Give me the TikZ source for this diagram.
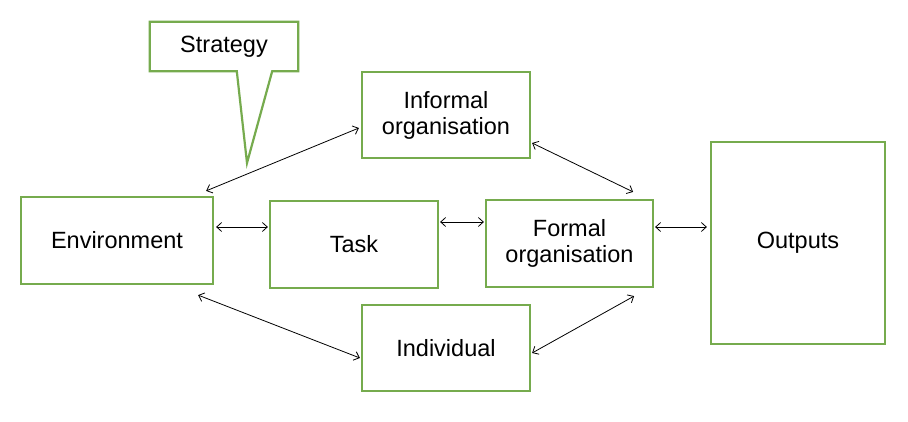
\documentclass[tikz,border=0pt]{standalone}
\usepackage{fontspec}
\setmainfont{Liberation Sans}
\usetikzlibrary{arrows.meta}
\definecolor{boxgreen}{RGB}{118,171,78}
\tikzset{
  box/.style={draw=boxgreen, line width=2.2pt, fill=white, inner sep=0pt, align=center,
    font=\fontsize{23.5}{26}\selectfont},
  arr/.style={draw=black, line width=0.8pt,
    {Straight Barb[length=5pt,width=9pt]}-{Straight Barb[length=5pt,width=9pt]}}
}
\begin{document}
\begin{tikzpicture}[x=1pt,y=-1pt]
\useasboundingbox[fill=white] (0,0) rectangle (908,422);
% callout
\node[font=\fontsize{23.5}{26}\selectfont, inner sep=0pt, minimum width=148pt, minimum height=49pt] (strat) at (224,46.5) {Strategy};
\draw[draw=boxgreen, line width=2.2pt, line join=miter]
  (strat.north west) -- (strat.north east) -- (strat.south east)
  -- ([xshift=-26pt]strat.south east) -- (247,163) coordinate (tip)
  -- ([xshift=87pt]strat.south west) -- (strat.south west) -- cycle;
% boxes
\node[box, minimum width=168pt, minimum height=86pt] (inf) at (446,115) {Informal\\organisation};
\node[box, minimum width=192pt, minimum height=87pt] (env) at (117,240.5) {Environment};
\node[box, minimum width=168pt, minimum height=87pt] (task) at (354,244.5) {Task};
\node[box, minimum width=167pt, minimum height=87pt] (formal) at (569.5,243.5) {Formal\\organisation};
\node[box, minimum width=174pt, minimum height=202pt] (out) at (798,243) {Outputs};
\node[box, minimum width=168pt, minimum height=86pt] (indiv) at (446,348) {Individual};
% connectors
\draw[arr] ([xshift=-8pt,yshift=5pt]env.north east) -- ([xshift=-2pt,yshift=-13pt]inf.west);
\draw[arr] ([xshift=1pt,yshift=-28pt]inf.east) -- ([xshift=-21pt,yshift=7pt]formal.north east);
\draw[arr] ([xshift=2pt,yshift=13.5pt]env.east) coordinate (a1) -- ([xshift=-1pt]a1 -| task.west);
\draw[arr] ([xshift=1pt,yshift=22.5pt]task.east) coordinate (a2) -- ([xshift=-1pt]a2 -| formal.west);
\draw[arr] ([xshift=1pt,yshift=16.5pt]formal.east) coordinate (a3) -- ([xshift=-3pt]a3 -| out.west);
\draw[arr] ([xshift=-16pt,yshift=-10pt]env.south east) -- ([xshift=-1pt,yshift=-10pt]indiv.west);
\draw[arr] ([xshift=1pt,yshift=-5pt]indiv.east) -- ([xshift=-20pt,yshift=-8pt]formal.south east);
\end{tikzpicture}
\end{document}
